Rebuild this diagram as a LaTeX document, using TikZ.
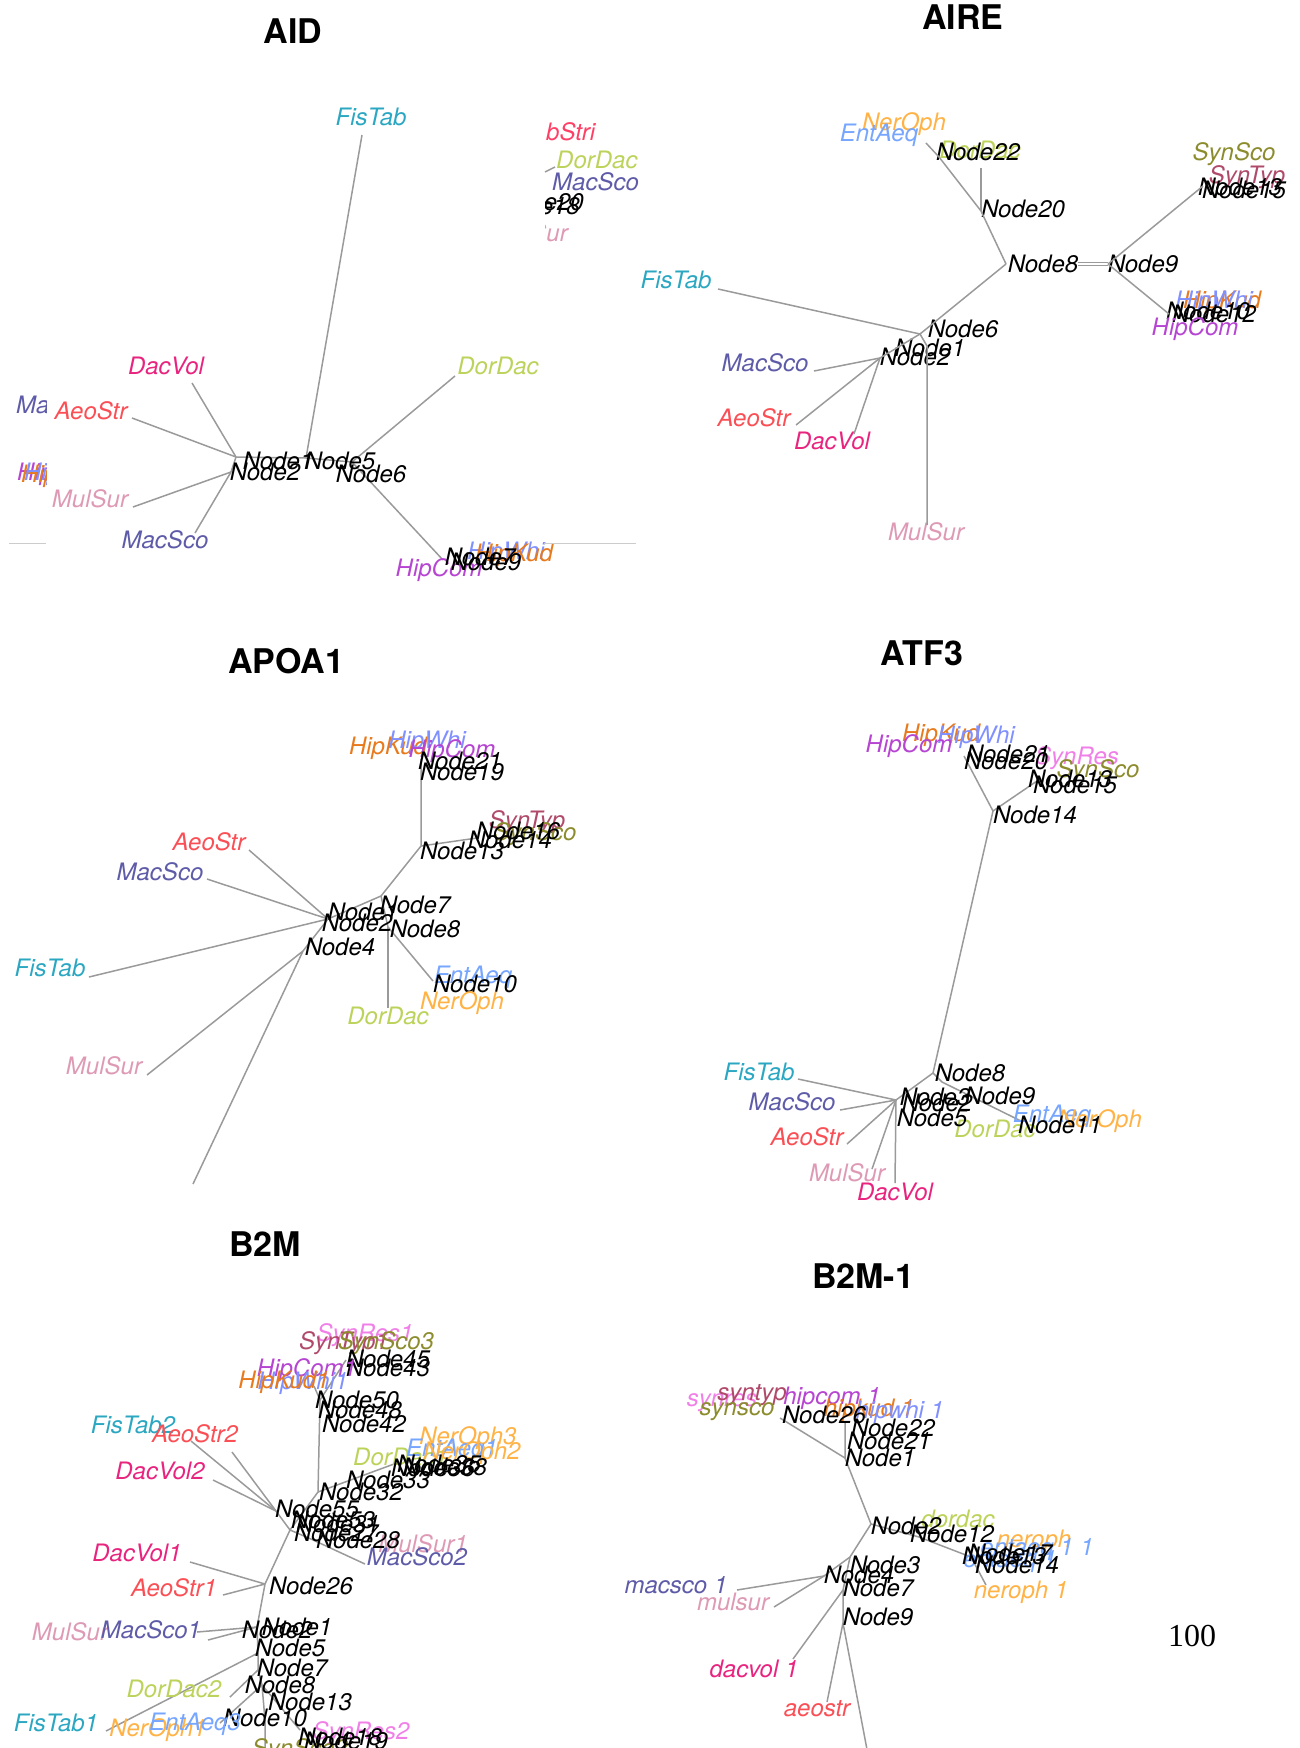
\documentclass[tikz,border=0pt]{standalone}
\usepackage{fontspec}
\setmainfont{TeX Gyre Heros}
\newfontfamily\pagenumfont{Liberation Serif}
\usetikzlibrary{positioning}

\begin{document}
\begin{tikzpicture}[
  x=1pt, y=-1pt,
  lbl/.style={font=\itshape\fontsize{24}{24}\selectfont, inner sep=0pt},
  ttl/.style={font=\bfseries\fontsize{34}{34}\selectfont, inner sep=0pt},
  branch/.style={draw=cBranch, line width=1.5pt},
  rim/.style={draw=black!20, line width=0.8pt},
]
\definecolor{cBranch}{HTML}{9A9A9A}
\definecolor{cFis}{HTML}{2BA7C2}
\definecolor{cDac}{HTML}{E8247F}
\definecolor{cAeo}{HTML}{F94F55}
\definecolor{cStr}{HTML}{FF4066}
\definecolor{cMul}{HTML}{DE9AB5}
\definecolor{cMac}{HTML}{5E5BA8}
\definecolor{cDor}{HTML}{BCD35B}
\definecolor{cHipC}{HTML}{B645D1}
\definecolor{cHipW}{HTML}{8090FF}
\definecolor{cHipK}{HTML}{E87A1E}
\definecolor{cNer}{HTML}{FFB347}
\definecolor{cEnt}{HTML}{77A6FF}
\definecolor{cSynS}{HTML}{8C8C2E}
\definecolor{cSynT}{HTML}{B04A6A}
\definecolor{cSynR}{HTML}{F080E8}

\useasboundingbox (0,0) rectangle (1300,1748);

% ============================================================================
% AID (top left) -- with cut-off fragments of a plot underneath
% ============================================================================
\node[ttl] (aidT) at (293,31) {AID};

\coordinate (aidJ1) at (236,457);
\coordinate (aidJ2) at (231,472);
\coordinate (aidJ5) at (306,458);
\coordinate (aidJ6) at (352,462);
\coordinate (aidTFis) at (362,135);
\coordinate (aidTDac) at (192,383);
\coordinate (aidTAeo) at (132,418);
\coordinate (aidTMul) at (133,507);
\coordinate (aidTMac) at (195,533);
\coordinate (aidTDor) at (455,376);
\coordinate (aidTHip) at (443,560);

\draw[branch] (aidJ5) -- (aidTFis);
\draw[branch] (aidJ1) -- (aidTDac);
\draw[branch] (aidJ1) -- (aidTAeo);
\draw[branch] (aidJ2) -- (aidTMul);
\draw[branch] (aidJ2) -- (aidTMac);
\draw[branch] (aidJ6) -- (aidTDor);
\draw[branch] (aidJ6) -- (aidTHip);
\draw[branch] (aidJ2) -- (aidJ1) -- (aidJ5) -- (aidJ6);

\node[lbl, text=cFis] (aidFis) at (371,117) {FisTab};
\node[lbl, text=cDac] (aidDac) at (166,366) {DacVol};
\node[lbl, text=cAeo] (aidAeo) at (91,411) {AeoStr};
\node[lbl, text=cMul] (aidMul) at (90,499) {MulSur};
\node[lbl, text=cMac] (aidMac) at (165,540) {MacSco};
\node[lbl, text=cDor] (aidDor) at (498,366) {DorDac};
\node[lbl, text=cHipC] (aidHipC) at (439,570) {HipCom};
\node[lbl, text=cHipW] (aidHipW) at (506,553) {HipWhi};
\node[lbl, text=cHipK] (aidHipK) at (514,555) {HipKud};
\node[lbl] (aidN7) at (480,557) {Node7};
\node[lbl] (aidN9) at (486,562) {Node9};
\node[lbl] (aidN1) at (278,461) {Node1};
\node[lbl] (aidN2) at (265,472) {Node2};
\node[lbl] (aidN5) at (340,461) {Node5};
\node[lbl] (aidN6) at (371,474) {Node6};

% fragments left of the white box
\begin{scope}
  \clip (14,380) rectangle (46,500);
  \node[lbl, text=cMac, anchor=west] (aidxMac) at (16,405) {MacSco};
  \node[lbl, text=cHipC, anchor=west] (aidxHipC) at (17,474) {HipCom};
  \node[lbl, text=cHipK, anchor=west] (aidxHipK) at (21,476) {HipKud};
  \node[lbl, text=cHipW, anchor=west] (aidxHipW) at (24,474) {HipWhi};
\end{scope}

% fragments right of the white box
\node[lbl, text=cStr, anchor=west] (aidxStr) at (546,132) {bStri};
\node[lbl, text=cDor, anchor=west] (aidxDor) at (556,160) {DorDac};
\node[lbl, text=cMac, anchor=west] (aidxMac2) at (552,182) {MacSco};
\coordinate (aidxA) at (545,172);
\coordinate (aidxB) at (555,167);
\draw[branch] (aidxA) -- (aidxB);
\begin{scope}
  \clip (545,180) rectangle (640,250);
  \node[lbl, anchor=east] (aidxN20) at (584,202) {Node20};
  \node[lbl, anchor=east] (aidxN18) at (580,206) {Node18};
  \node[lbl, text=cMul, anchor=east] (aidxMul) at (568,233) {MulSur};
\end{scope}

\coordinate (rimA) at (9,543);
\coordinate (rimB) at (46,543);
\coordinate (rimC) at (544,543);
\coordinate (rimD) at (636,543);
\draw[rim] (rimA) -- (rimB);
\draw[rim] (rimC) -- (rimD);

% ============================================================================
% AIRE (top right)
% ============================================================================
\node[ttl] (aireT) at (963,17) {AIRE};

\coordinate (aireJ22) at (939,157);
\coordinate (aireTEnt) at (926,143);
\coordinate (aireTDor) at (981,168);
\coordinate (aireJ20) at (981,211);
\coordinate (aireJ8) at (1006,264);
\coordinate (aireJ9) at (1108,264);
\coordinate (aireJ15) at (1203,186);
\coordinate (aireJ10) at (1169,314);
\coordinate (aireJ6) at (920,334);
\coordinate (aireTFis) at (718,289);
\coordinate (aireJ2) at (880,358);
\coordinate (aireTMac) at (814,371);
\coordinate (aireTAeo) at (796,425);
\coordinate (aireTDac) at (854,434);
\coordinate (aireJ3) at (927,346);
\coordinate (aireTMul) at (927,525);

\node[lbl, text=cNer] (aireNer) at (904,124) {NerOph};
\node[lbl, text=cEnt] (aireEnt) at (879,135) {EntAeq};
\node[lbl, text=cDor] (aireDor) at (980,150) {DorDac};
\node[lbl] (aireN22) at (978,152) {Node22};
\node[lbl] (aireN20) at (1023,209) {Node20};
\node[lbl] (aireN8) at (1043,264) {Node8};
\node[lbl] (aireN9) at (1143,264) {Node9};
\node[lbl, text=cSynS] (aireSynS) at (1234,154) {SynSco};
\node[lbl, text=cSynT] (aireSynT) at (1247,177) {SynTyp};
\node[lbl] (aireN13) at (1240,187) {Node13};
\node[lbl] (aireN15) at (1244,190) {Node15};
\node[lbl, text=cHipK] (aireHipK) at (1222,302) {HipKud};
\node[lbl, text=cHipW] (aireHipW) at (1214,302) {HipWhi};
\node[lbl] (aireN10) at (1208,311) {Node10};
\node[lbl] (aireN12) at (1214,314) {Node12};
\node[lbl, text=cHipC] (aireHipC) at (1195,329) {HipCom};
\node[lbl] (aireN6) at (963,329) {Node6};
\node[lbl, text=cFis] (aireFis) at (676,280) {FisTab};
\node[lbl] (aireN1) at (930,348) {Node1};
\node[lbl] (aireN2) at (915,357) {Node2};
\node[lbl, text=cMac] (aireMac) at (765,363) {MacSco};
\node[lbl, text=cAeo] (aireAeo) at (754,418) {AeoStr};
\node[lbl, text=cDac] (aireDac) at (832,441) {DacVol};
\node[lbl, text=cMul] (aireMul) at (926,532) {MulSur};

\draw[branch] (aireJ22) -- (aireTEnt);
\draw[branch] (aireJ22) -- (aireJ20) -- (aireJ8);
\draw[branch] (aireJ20) -- (aireTDor);
\draw[branch, double=white, double distance=1.2pt, line width=1pt]
  (aireN8.east) -- (aireJ9);
\draw[branch] (aireJ9) -- (aireJ15);
\draw[branch] (aireJ9) -- (aireJ10);
\draw[branch] (aireJ8) -- (aireJ6);
\draw[branch] (aireJ6) -- (aireTFis);
\draw[branch] (aireJ6) -- (aireJ2);
\draw[branch] (aireJ2) -- (aireTMac);
\draw[branch] (aireJ2) -- (aireTAeo);
\draw[branch] (aireJ2) -- (aireTDac);
\draw[branch] (aireJ6) -- (aireJ3) -- (aireTMul);

% ============================================================================
% APOA1 (middle left)
% ============================================================================
\node[ttl] (apoT) at (286,661) {APOA1};

\coordinate (apoTHip) at (421,759);
\coordinate (apoJ13) at (421,846);
\coordinate (apoT14) at (477,838);
\coordinate (apoJ7) at (381,896);
\coordinate (apoJ2) at (328,919);
\coordinate (apoJ8) at (388,927);
\coordinate (apoTDor) at (388,1008);
\coordinate (apoT10) at (433,981);
\coordinate (apoTAeo) at (249,850);
\coordinate (apoTMac) at (207,879);
\coordinate (apoTFis) at (89,977);
\coordinate (apoJ4) at (303,951);
\coordinate (apoTMul) at (147,1075);
\coordinate (apoTEnd) at (193,1184);

\draw[branch] (apoTHip) -- (apoJ13) -- (apoT14);
\draw[branch] (apoJ13) -- (apoJ7) -- (apoJ2);
\draw[branch] (apoJ7) -- (apoJ8);
\draw[branch] (apoJ8) -- (apoTDor);
\draw[branch] (apoJ8) -- (apoT10);
\draw[branch] (apoJ2) -- (apoTAeo);
\draw[branch] (apoJ2) -- (apoTMac);
\draw[branch] (apoJ2) -- (apoTFis);
\draw[branch] (apoJ2) -- (apoJ4);
\draw[branch] (apoJ4) -- (apoTMul);
\draw[branch] (apoJ4) -- (apoTEnd);

\node[lbl, text=cHipK] (apoHipK) at (388,748) {HipKud};
\node[lbl, text=cHipW] (apoHipW) at (427,742) {HipWhi};
\node[lbl, text=cHipC] (apoHipC) at (452,751) {HipCom};
\node[lbl] (apoN21) at (460,761) {Node21};
\node[lbl] (apoN19) at (462,772) {Node19};
\node[lbl] (apoN13) at (462,851) {Node13};
\node[lbl, text=cSynT] (apoSynT) at (527,822) {SynTyp};
\node[lbl, text=cSynS] (apoSynS) at (535,834) {SynSco};
\node[lbl] (apoN16) at (518,831) {Node16};
\node[lbl] (apoN14) at (510,840) {Node14};
\node[lbl] (apoN7) at (415,905) {Node7};
\node[lbl] (apoN8) at (425,929) {Node8};
\node[lbl] (apoN1) at (363,912) {Node1};
\node[lbl] (apoN2) at (357,923) {Node2};
\node[lbl] (apoN4) at (340,947) {Node4};
\node[lbl, text=cAeo] (apoAeo) at (209,842) {AeoStr};
\node[lbl, text=cMac] (apoMac) at (160,872) {MacSco};
\node[lbl, text=cFis] (apoFis) at (50,968) {FisTab};
\node[lbl, text=cMul] (apoMul) at (104,1066) {MulSur};
\node[lbl, text=cDor] (apoDor) at (388,1016) {DorDac};
\node[lbl, text=cEnt] (apoEnt) at (473,977) {EntAeq};
\node[lbl] (apoN10) at (475,984) {Node10};
\node[lbl, text=cNer] (apoNer) at (462,1003) {NerOph};

% ============================================================================
% ATF3 (middle right)
% ============================================================================
\node[ttl] (atfT) at (922,653) {ATF3};

\coordinate (atfTHip) at (964,756);
\coordinate (atfJ14) at (993,811);
\coordinate (atfT15) at (1037,781);
\coordinate (atfJ8) at (933,1073);
\coordinate (atfJ2) at (896,1100);
\coordinate (atfTFis) at (798,1079);
\coordinate (atfTMac) at (840,1110);
\coordinate (atfTAeo) at (847,1144);
\coordinate (atfTMul) at (872,1169);
\coordinate (atfTDac) at (895,1183);
\coordinate (atfJ9) at (942,1082);
\coordinate (atfT11) at (1021,1121);

\draw[branch] (atfTHip) -- (atfJ14) -- (atfT15);
\draw[branch] (atfJ14) -- (atfJ8) -- (atfJ2);
\draw[branch] (atfJ2) -- (atfTFis);
\draw[branch] (atfJ2) -- (atfTMac);
\draw[branch] (atfJ2) -- (atfTAeo);
\draw[branch] (atfJ2) -- (atfTMul);
\draw[branch] (atfJ2) -- (atfTDac);
\draw[branch] (atfJ8) -- (atfJ9) -- (atfT11);

\node[lbl, text=cHipK] (atfHipK) at (941,735) {HipKud};
\node[lbl, text=cHipW] (atfHipW) at (976,737) {HipWhi};
\node[lbl, text=cHipC] (atfHipC) at (909,746) {HipCom};
\node[lbl, text=cSynR] (atfSynR) at (1077,758) {SynRes};
\node[lbl, text=cSynS] (atfSynS) at (1098,771) {SynSco};
\node[lbl] (atfN21) at (1008,754) {Node21};
\node[lbl] (atfN20) at (1006,761) {Node20};
\node[lbl] (atfN13) at (1070,779) {Node13};
\node[lbl] (atfN15) at (1075,785) {Node15};
\node[lbl] (atfN14) at (1035,815) {Node14};
\node[lbl, text=cFis] (atfFis) at (759,1072) {FisTab};
\node[lbl, text=cMac] (atfMac) at (792,1102) {MacSco};
\node[lbl, text=cAeo] (atfAeo) at (807,1137) {AeoStr};
\node[lbl, text=cMul] (atfMul) at (847,1173) {MulSur};
\node[lbl, text=cDac] (atfDac) at (895,1192) {DacVol};
\node[lbl, text=cDor] (atfDor) at (995,1129) {DorDac};
\node[lbl, text=cEnt] (atfEnt) at (1052,1116) {EntAeq};
\node[lbl, text=cNer] (atfNer) at (1100,1121) {NerOph};
\node[lbl] (atfN8) at (970,1073) {Node8};
\node[lbl] (atfN3) at (935,1097) {Node3};
\node[lbl] (atfN2) at (937,1103) {Node2};
\node[lbl] (atfN5) at (932,1118) {Node5};
\node[lbl] (atfN9) at (1000,1096) {Node9};
\node[lbl] (atfN11) at (1060,1125) {Node11};

% ============================================================================
% B2M (bottom left)
% ============================================================================
\node[ttl] (bmT) at (265,1244) {B2M};

\coordinate (bmJ45) at (346,1360);
\coordinate (bmTHip) at (314,1386);
\coordinate (bmJ50) at (320,1400);
\coordinate (bmJ32) at (318,1492);
\coordinate (bmT35) at (394,1464);
\coordinate (bmJ55) at (276,1511);
\coordinate (bmTFis2) at (191,1441);
\coordinate (bmTAeo2) at (232,1452);
\coordinate (bmTDac2) at (213,1480);
\coordinate (bmJ27) at (290,1530);
\coordinate (bmJ28) at (311,1539);
\coordinate (bmTMac2) at (365,1564);
\coordinate (bmJ26) at (265,1584);
\coordinate (bmTDac1) at (190,1562);
\coordinate (bmTAeo1) at (223,1595);
\coordinate (bmJ1) at (257,1627);
\coordinate (bmTMac1) at (197,1632);
\coordinate (bmTMul) at (208,1640);
\coordinate (bmJ5) at (258,1653);
\coordinate (bmTFis1) at (106,1731);
\coordinate (bmJ7) at (258,1670);
\coordinate (bmTDor2) at (230,1697);
\coordinate (bmJ8) at (262,1685);
\coordinate (bmTEnt3) at (220,1723);
\coordinate (bmT18) at (300,1730);
\coordinate (bmJ10) at (265,1720);
\coordinate (bmTEnd) at (265,1760);

\draw[branch] (bmJ45) -- (bmJ50) -- (bmTHip);
\draw[branch] (bmJ50) -- (bmJ32) -- (bmT35);
\draw[branch] (bmJ32) -- (bmJ27);
\draw[branch] (bmTFis2) -- (bmJ55);
\draw[branch] (bmTAeo2) -- (bmJ55);
\draw[branch] (bmTDac2) -- (bmJ55);
\draw[branch] (bmJ55) -- (bmJ27);
\draw[branch] (bmJ27) -- (bmJ28) -- (bmTMac2);
\draw[branch] (bmJ27) -- (bmJ26) -- (bmJ1);
\draw[branch] (bmJ26) -- (bmTDac1);
\draw[branch] (bmJ26) -- (bmTAeo1);
\draw[branch] (bmJ1) -- (bmTMac1);
\draw[branch] (bmJ1) -- (bmTMul);
\draw[branch] (bmJ1) -- (bmJ5) -- (bmTFis1);
\draw[branch] (bmJ5) -- (bmJ7) -- (bmTDor2);
\draw[branch] (bmJ7) -- (bmJ8) -- (bmTEnt3);
\draw[branch] (bmJ8) -- (bmT18);
\draw[branch] (bmJ8) -- (bmJ10) -- (bmTEnd);

\node[lbl, text=cSynR] (bmSynR1) at (365,1335) {SynRes1};
\node[lbl, text=cSynT] (bmSynT1) at (344,1343) {SynTyp1};
\node[lbl, text=cSynS] (bmSynS3) at (386,1343) {SynSco3};
\node[lbl] (bmN45) at (388,1359) {Node45};
\node[lbl] (bmN43) at (388,1368) {Node43};
\node[lbl, text=cHipC] (bmHipC1) at (307,1370) {HipCom1};
\node[lbl, text=cHipW] (bmHipW1) at (303,1383) {HipWhi1};
\node[lbl, text=cHipK] (bmHipK1) at (284,1382) {HipKud1};
\node[lbl] (bmN50) at (357,1400) {Node50};
\node[lbl] (bmN48) at (360,1410) {Node48};
\node[lbl] (bmN42) at (364,1424) {Node42};
\node[lbl, text=cFis] (bmFis2) at (133,1425) {FisTab2};
\node[lbl, text=cAeo] (bmAeo2) at (195,1434) {AeoStr2};
\node[lbl, text=cDac] (bmDac2) at (160,1471) {DacVol2};
\node[lbl, text=cDor, anchor=west] (bmDor1) at (353,1457) {DorDac1};
\node[lbl, text=cNer] (bmNer3) at (468,1438) {NerOph3};
\node[lbl, text=cEnt] (bmEnt1) at (452,1450) {EntAeq1};
\node[lbl, text=cNer] (bmNer2) at (472,1453) {NerOph2};
\node[lbl] (bmN36) at (433,1468) {Node36};
\node[lbl] (bmN35) at (439,1464) {Node35};
\node[lbl] (bmN38) at (445,1467) {Node38};
\node[lbl] (bmN33) at (388,1480) {Node33};
\node[lbl] (bmN32) at (361,1492) {Node32};
\node[lbl, text=cMul] (bmMul1) at (423,1544) {MulSur1};
\node[lbl, text=cMac] (bmMac2) at (417,1557) {MacSco2};
\node[lbl] (bmN55) at (317,1509) {Node55};
\node[lbl] (bmN53) at (333,1520) {Node53};
\node[lbl] (bmN31) at (338,1524) {Node31};
\node[lbl] (bmN27) at (336,1533) {Node27};
\node[lbl] (bmN28) at (358,1540) {Node28};
\node[lbl, text=cDac] (bmDac1) at (137,1553) {DacVol1};
\node[lbl, text=cAeo] (bmAeo1) at (174,1588) {AeoStr1};
\node[lbl] (bmN26) at (311,1586) {Node26};
\node[lbl, text=cMul] (bmMul) at (70,1632) {MulSur};
\node[lbl, text=cMac] (bmMac1) at (151,1630) {MacSco1};
\node[lbl] (bmN1) at (297,1627) {Node1};
\node[lbl] (bmN2) at (277,1630) {Node2};
\node[lbl] (bmN5) at (290,1648) {Node5};
\node[lbl] (bmN7) at (292,1668) {Node7};
\node[lbl] (bmN8) at (280,1685) {Node8};
\node[lbl] (bmN13) at (310,1702) {Node13};
\node[lbl] (bmN10) at (265,1718) {Node10};
\node[lbl, text=cFis] (bmFis1) at (56,1723) {FisTab1};
\node[lbl, text=cDor] (bmDor2) at (174,1689) {DorDac2};
\node[lbl, text=cNer] (bmNer1) at (158,1730) {NerOph1};
\node[lbl, text=cEnt] (bmEnt3) at (195,1724) {EntAeq3};
\node[lbl, text=cSynR] (bmSynR2) at (361,1733) {SynRes2};
\node[lbl, text=cSynS] (bmSynS2) at (300,1750) {SynSco2};
\node[lbl] (bmN18) at (340,1737) {Node18};
\node[lbl] (bmN19) at (346,1741) {Node19};

% ============================================================================
% B2M-1 (bottom right)
% ============================================================================
\node[ttl] (bxT) at (863,1276) {B2M-1};

\coordinate (bxTSyn) at (780,1418);
\coordinate (bxTHip) at (845,1422);
\coordinate (bxJ1) at (845,1458);
\coordinate (bxJ2) at (871,1524);
\coordinate (bxJ12) at (919,1537);
\coordinate (bxJ14) at (971,1557);
\coordinate (bxTNer) at (986,1585);
\coordinate (bxJ4) at (850,1557);
\coordinate (bxJ4b) at (824,1576);
\coordinate (bxTMac) at (737,1590);
\coordinate (bxTMul) at (774,1607);
\coordinate (bxJ7) at (843,1590);
\coordinate (bxTDac) at (793,1659);
\coordinate (bxJ9) at (843,1623);
\coordinate (bxTAeo) at (827,1702);
\coordinate (bxTEnd) at (869,1760);

\draw[branch] (bxTSyn) -- (bxJ1) -- (bxTHip);
\draw[branch] (bxJ1) -- (bxJ2) -- (bxJ12) -- (bxJ14) -- (bxTNer);
\draw[branch] (bxJ2) -- (bxJ4) -- (bxJ4b) -- (bxTMac);
\draw[branch] (bxJ4b) -- (bxTMul);
\draw[branch] (bxJ4) -- (bxJ7) -- (bxTDac);
\draw[branch] (bxJ7) -- (bxJ9) -- (bxTAeo);
\draw[branch] (bxJ9) -- (bxTEnd);

\node[lbl, text=cSynR] (bxSynR) at (722,1403) {synres};
\node[lbl, text=cSynT] (bxSynT) at (752,1395) {syntyp};
\node[lbl, text=cSynS] (bxSynS) at (737,1412) {synsco};
\node[lbl, text=cHipC] (bxHipC) at (832,1398) {hipcom 1};
\node[lbl, text=cHipK] (bxHipK) at (869,1410) {hipkud 1};
\node[lbl, text=cHipW] (bxHipW) at (900,1412) {hipwhi 1};
\node[lbl] (bxN26) at (824,1415) {Node26};
\node[lbl] (bxN22) at (893,1428) {Node22};
\node[lbl] (bxN21) at (889,1441) {Node21};
\node[lbl] (bxN1) at (880,1458) {Node1};
\node[lbl, text=cDor] (bxDor) at (958,1519) {dordac};
\node[lbl] (bxN2) at (906,1526) {Node2};
\node[lbl] (bxN12) at (952,1534) {Node12};
\node[lbl, text=cNer] (bxNer) at (1034,1541) {neroph};
\node[lbl, text=cEnt] (bxEnt11) at (1037,1550) {entaeq 1 1};
\node[lbl, text=cEnt] (bxEnt1) at (1010,1562) {entaeq 1};
\node[lbl] (bxN17) at (1010,1553) {Node17};
\node[lbl] (bxN13) at (1004,1556) {Node13};
\node[lbl] (bxN14) at (1017,1565) {Node14};
\node[lbl, text=cNer] (bxNer1) at (1021,1592) {neroph 1};
\node[lbl] (bxN3) at (885,1565) {Node3};
\node[lbl] (bxN4) at (859,1575) {Node4};
\node[lbl] (bxN7) at (878,1588) {Node7};
\node[lbl, text=cMac] (bxMac) at (676,1585) {macsco 1};
\node[lbl, text=cMul] (bxMul) at (733,1602) {mulsur};
\node[lbl] (bxN9) at (878,1617) {Node9};
\node[lbl, text=cDac] (bxDac) at (754,1669) {dacvol 1};
\node[lbl, text=cAeo] (bxAeo) at (817,1709) {aeostr};

% page number
\node[font=\pagenumfont\fontsize{32}{32}\selectfont, inner sep=0pt] (pgNum)
  at (1192,1636) {100};

\end{tikzpicture}
\end{document}
